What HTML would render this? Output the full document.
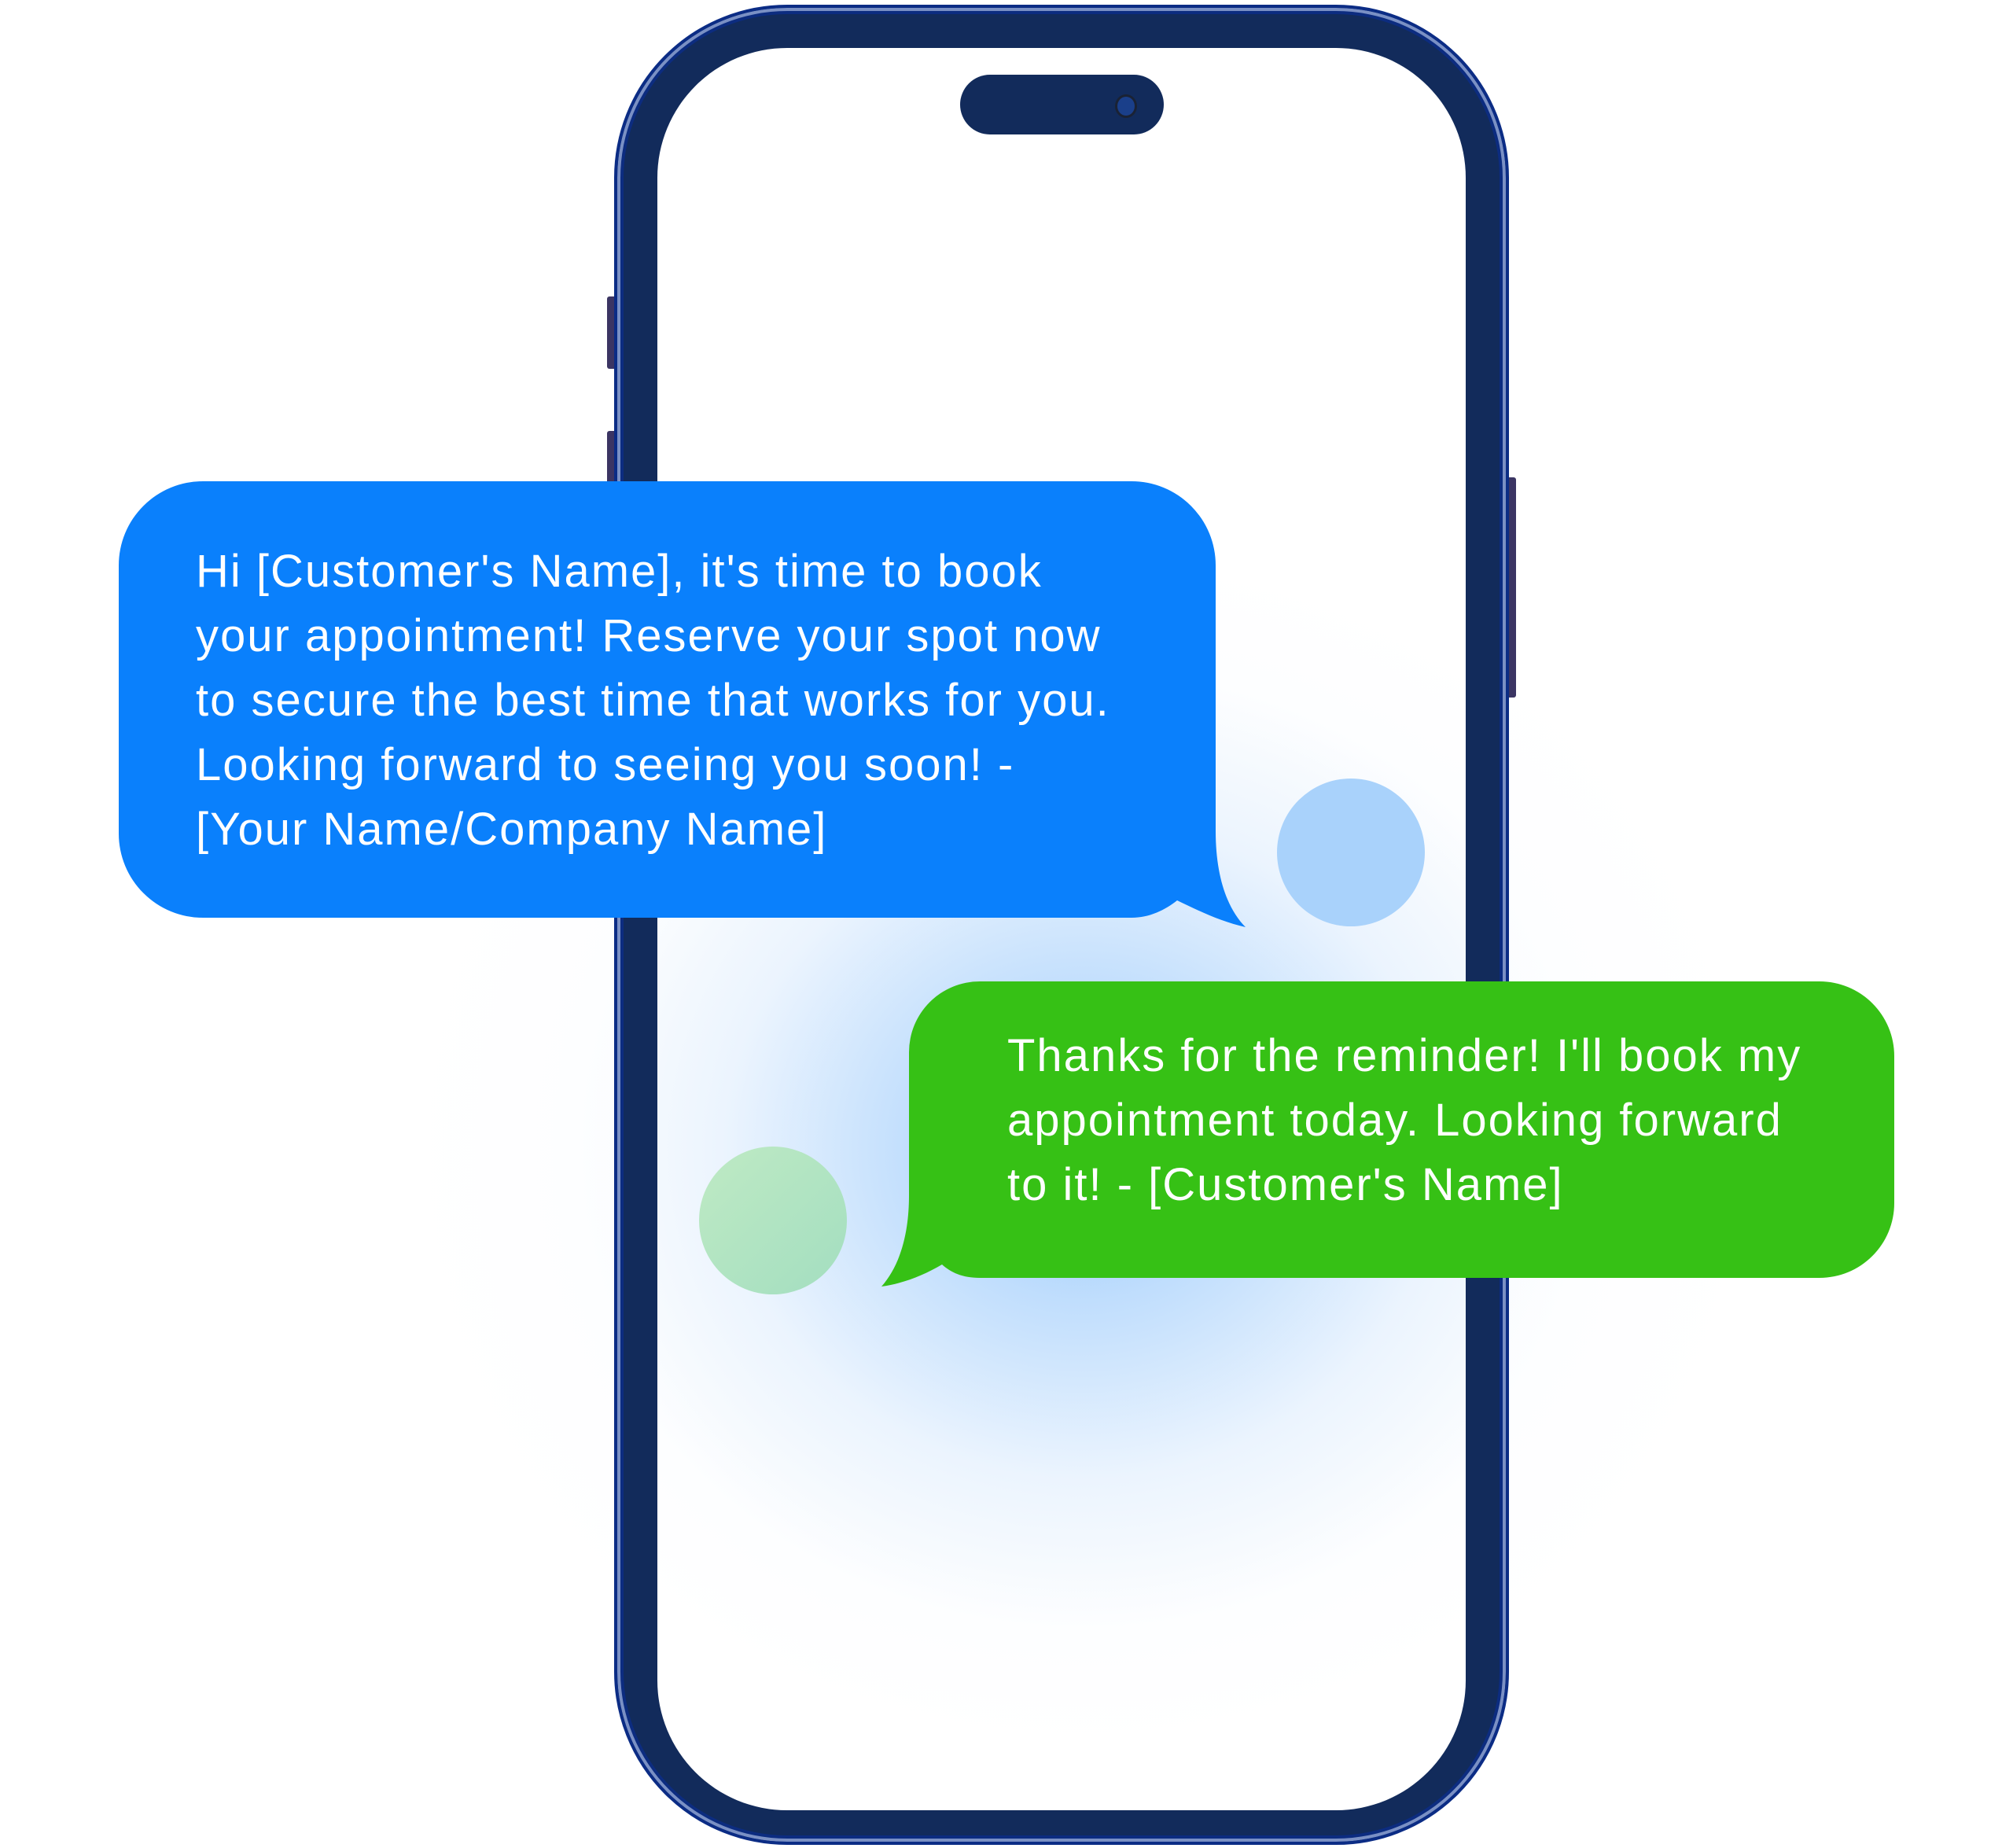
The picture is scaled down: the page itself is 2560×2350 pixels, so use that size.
<!DOCTYPE html>
<html><head><meta charset="utf-8"><style>
html,body{margin:0;padding:0;background:#fff;}
body{width:2560px;height:2350px;position:relative;overflow:hidden;font-family:"Liberation Sans",sans-serif;}
.abs{position:absolute;}
.txt{position:absolute;color:#fff;font-size:58px;letter-spacing:2px;white-space:nowrap;line-height:82px;}
</style></head><body>
<div class="abs" style="left:500px;top:640px;width:1760px;height:1640px;background:radial-gradient(ellipse 860px 800px at 878px 820px, rgba(190,218,250,0.5) 0%, rgba(225,238,252,0.35) 50%, rgba(245,249,254,0.2) 75%, rgba(255,255,255,0) 100%);"></div>
<div class="abs" style="left:772px;top:377px;width:12px;height:92px;background:#3b3563;border-radius:3px"></div>
<div class="abs" style="left:772px;top:548px;width:12px;height:80px;background:#3b3563;border-radius:3px"></div>
<div class="abs" style="left:1916px;top:607px;width:12px;height:280px;background:#3b3563;border-radius:3px"></div>
<div class="abs" style="left:781px;top:6px;width:1138px;height:2340px;border-radius:220px;background:#122b5b;box-sizing:border-box;border:4px solid #0b2c85;box-shadow:inset 0 0 0 4px #7a90c4, inset 0 0 0 8px #0c2c80;"></div>
<div class="abs" style="left:836px;top:61px;width:1028px;height:2241px;border-radius:165px;background:#fff;overflow:hidden">
  <div class="abs" style="left:-600px;top:560px;width:2100px;height:1800px;background:radial-gradient(ellipse 830px 760px at 1142px 840px, rgba(145,198,252,1) 0%, rgba(170,210,252,0.75) 25%, rgba(208,229,252,0.42) 55%, rgba(240,246,254,0.15) 80%, rgba(255,255,255,0) 100%);"></div>
</div>
<div class="abs" style="left:1221px;top:95px;width:259px;height:76px;border-radius:38px;background:#122b5b"></div>
<div class="abs" style="left:1418px;top:120px;width:22px;height:24px;border-radius:50%;background:#1a3f8a;border:3px solid #1a2234"></div>
<div class="abs" style="left:1624px;top:990px;width:188px;height:188px;border-radius:50%;background:#a9d2fb"></div>
<div class="abs" style="left:889px;top:1458px;width:188px;height:188px;border-radius:50%;background:linear-gradient(135deg,#bfeac4,#a3dec0)"></div>
<svg class="abs" style="left:0;top:0" width="2560" height="2350">
  <path d="M258 612 H1439 A107 107 0 0 1 1546 719 V1057 C1546 1117 1562 1157 1584 1179 C1552 1172 1522 1157 1497 1145 C1482 1157 1462 1167 1439 1167 H258 A107 107 0 0 1 151 1060 V719 A107 107 0 0 1 258 612 Z" fill="#0a80fc"/>
  <path d="M1246 1248 H2314 A95 95 0 0 1 2409 1343 V1530 A95 95 0 0 1 2314 1625 H1246 C1224 1625 1209 1618 1198 1608 C1174 1622 1149 1632 1121 1636 C1144 1610 1156 1570 1156 1520 V1338 A90 90 0 0 1 1246 1248 Z" fill="#36c115"/>
</svg>
<div class="txt" style="left:249px;top:686px">Hi [Customer's Name], it's time to book</div>
<div class="txt" style="left:249px;top:768px">your appointment! Reserve your spot now</div>
<div class="txt" style="left:249px;top:850px">to secure the best time that works for you.</div>
<div class="txt" style="left:249px;top:932px">Looking forward to seeing you soon! -</div>
<div class="txt" style="left:249px;top:1014px">[Your Name/Company Name]</div>
<div class="txt" style="left:1281px;top:1302px">Thanks for the reminder! I'll book my</div>
<div class="txt" style="left:1281px;top:1384px">appointment today. Looking forward</div>
<div class="txt" style="left:1281px;top:1466px">to it! - [Customer's Name]</div>
</body></html>
